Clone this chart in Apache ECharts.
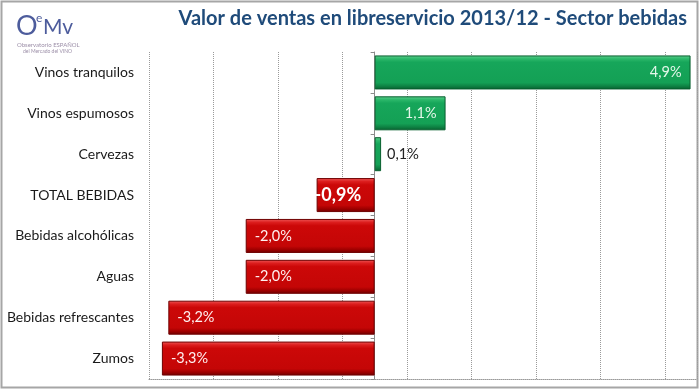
<!DOCTYPE html>
<html>
<head>
<meta charset="utf-8">
<script src="https://cdn.jsdelivr.net/npm/echarts@6/dist/echarts.min.js"></script>
<style>
html,body{margin:0;padding:0;background:#fff;}
#chart{width:700px;height:390px;}
</style>
</head>
<body>
<div id="chart"></div>
<script>
const categories = ['Vinos tranquilos','Vinos espumosos','Cervezas','TOTAL BEBIDAS','Bebidas alcohólicas','Aguas','Bebidas refrescantes','Zumos'];
const values = [4.9, 1.1, 0.1, -0.9, -2.0, -2.0, -3.2, -3.3];
const titleText = 'Valor de ventas en libreservicio 2013/12 - Sector bebidas';

const FONT = 'Lato';
const greenFill = {type:'linear',x:0,y:0,x2:0,y2:1,colorStops:[
  {offset:0,color:'#5fd08f'},{offset:0.1,color:'#2cb86a'},{offset:0.2,color:'#16a65a'},
  {offset:0.8,color:'#14a055'},{offset:0.9,color:'#0e8344'},{offset:1,color:'#075f2e'}]};
const redFill = {type:'linear',x:0,y:0,x2:0,y2:1,colorStops:[
  {offset:0,color:'#ef5a5a'},{offset:0.1,color:'#dc1e1e'},{offset:0.2,color:'#cc0808'},
  {offset:0.8,color:'#c40606'},{offset:0.9,color:'#a00000'},{offset:1,color:'#6e0000'}]};

function fmt(v){ return v.toFixed(1).replace('.',',') + '%'; }

const seriesData = values.map(function(v, i){
  const pos = v >= 0;
  const item = {
    value: v,
    itemStyle: {color: pos ? greenFill : redFill, borderColor: pos ? '#075f2e' : '#6e0000', borderWidth: 1},
    label: {
      show: true,
      position: pos ? 'insideRight' : 'insideLeft',
      distance: 9,
      color: pos ? '#e4f7ea' : '#fff0f0',
      fontSize: 14.5,
      fontFamily: FONT,
      formatter: function(p){ return fmt(p.value); }
    }
  };
  if (Math.abs(v) < 0.5 && pos) {
    item.label.position = 'right';
    item.label.distance = 6;
    item.label.color = '#222';
  }
  if (categories[i] === 'TOTAL BEBIDAS') {
    item.label.fontWeight = 'bold';
    item.label.fontSize = 18;
    item.label.color = '#ffffff';
    item.label.distance = -2;
  }
  return item;
});

const chart = echarts.init(document.getElementById('chart'), null, {renderer:'canvas'});
chart.setOption({
  animation: false,
  backgroundColor: '#ffffff',
  title: {
    text: titleText,
    right: 8, top: 4,
    textStyle: {color:'#1f4b7a', fontSize: 20, fontWeight:'bold', fontFamily: FONT}
  },
  graphic: [
    {type:'rect', shape:{x:1.5,y:1.5,width:696,height:386}, style:{fill:'none', stroke:'#a6a6a6', lineWidth:2}, silent:true},
    {type:'text', left:16, top:13, style:{text:'O', fontSize:27, fontFamily:FONT, fill:'#4d5c9c', fontWeight:'normal'}},
    {type:'text', left:36, top:12, style:{text:'e', fontSize:12, fontFamily:FONT, fill:'#4d5c9c'}},
    {type:'text', left:43, top:17, style:{text:'Mv', fontSize:21, fontFamily:FONT, fill:'#4d5c9c'}},
    {type:'text', left:17, top:42, style:{text:'Observatorio ESPAÑOL', fontSize:6, fontFamily:FONT, fill:'#9c8fa8'}},
    {type:'text', left:23, top:49, style:{text:'del Mercado del VINO', fontSize:5, fontFamily:FONT, fill:'#9c8fa8'}}
  ],
  grid: {left:149, right:3, top:52, bottom:11, containLabel:false},
  xAxis: {
    type:'value', min:-3.5, max:5, interval:1,
    axisLabel:{show:false}, axisTick:{show:false},
    axisLine:{show:true, lineStyle:{color:'#9a9a9a', type:'dotted', width:1}},
    splitLine:{show:true, lineStyle:{color:'#9a9a9a', type:'dotted', width:1}}
  },
  yAxis: [
    {
      type:'category', data:categories, inverse:true,
      axisLine:{show:false, onZero:false}, axisTick:{show:false},
      axisLabel:{margin:15, color:'#1a1a1a', fontSize:14, fontFamily:FONT},
      splitLine:{show:false}
    },
    {
      type:'category', data:categories, inverse:true, position:'left',
      axisLine:{show:true, onZero:true, lineStyle:{color:'#8c8c8c', width:1}},
      axisTick:{show:true, length:4, lineStyle:{color:'#8c8c8c'}},
      axisLabel:{show:false}, splitLine:{show:false}
    }
  ],
  series: [{
    type:'bar', yAxisIndex:0, data:seriesData, barWidth:34
  }]
});
</script>
</body>
</html>
